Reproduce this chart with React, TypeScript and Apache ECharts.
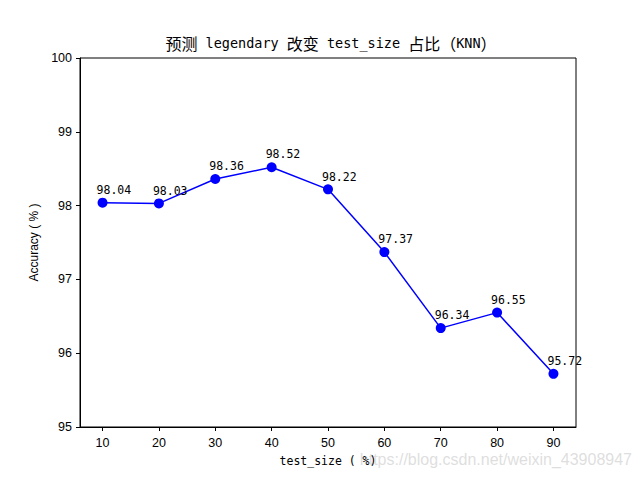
import React, { useEffect, useRef } from "react";
import * as echarts from "echarts";

const testSizes = [10, 20, 30, 40, 50, 60, 70, 80, 90];
const accuracy = [98.04, 98.03, 98.36, 98.52, 98.22, 97.37, 96.34, 96.55, 95.72];
const xTicks = [10, 20, 30, 40, 50, 60, 70, 80, 90];
const titleParts: [string, string][] = [
  ["c", "预测"],
  ["l", " legendary "],
  ["c", "改变"],
  ["l", " test_size "],
  ["c", "占比（"],
  ["l", "KNN"],
  ["c", "）"],
];
const xName = "test_size ( %)";
const yName = "Accuracy ( % )";
const watermark = "https://blog.csdn.net/weixin_43908947";

const CJK = "'Noto Sans CJK SC', sans-serif";
const MONO = "'DejaVu Sans Mono', 'Noto Sans CJK SC', monospace";
const SANS = "'Liberation Sans', Arial, sans-serif";

export default function App() {
  const ref = useRef<HTMLDivElement>(null);
  useEffect(() => {
    if (!ref.current) return;
    const chart = echarts.init(ref.current, undefined, { renderer: "svg" });
    chart.setOption({
      animation: false,
      backgroundColor: "#ffffff",
      title: {
        text: titleParts.map(([k, t]) => `{${k}|${t}}`).join(""),
        left: 326,
        top: 28,
        textAlign: "center",
        textStyle: {
          fontWeight: "normal",
          rich: {
            c: { fontFamily: CJK, fontSize: 16, fontWeight: "normal", color: "#000", lineHeight: 20 },
            l: { fontFamily: MONO, fontSize: 13.5, fontWeight: "normal", color: "#000", lineHeight: 20 },
          },
        },
      },
      grid: {
        left: 80,
        right: 64,
        top: 58,
        bottom: 53,
        show: true,
        borderColor: "#000",
        borderWidth: 1,
        backgroundColor: "transparent",
      },
      xAxis: {
        type: "value",
        min: 6,
        max: 94,
        name: xName,
        nameLocation: "middle",
        nameGap: 28,
        nameTextStyle: { fontFamily: MONO, fontSize: 11.5, color: "#000" },
        axisLine: { show: true, lineStyle: { color: "#000" } },
        axisTick: { show: true, length: 4, lineStyle: { color: "#000" }, customValues: xTicks },
        axisLabel: { fontFamily: SANS, fontSize: 12.5, color: "#000", margin: 9, customValues: xTicks },
        splitLine: { show: false },
      },
      yAxis: {
        type: "value",
        min: 95,
        max: 100,
        interval: 1,
        name: yName,
        nameLocation: "middle",
        nameGap: 40,
        nameTextStyle: { fontFamily: SANS, fontSize: 12, color: "#000" },
        axisLine: { show: true, lineStyle: { color: "#000" } },
        axisTick: { show: true, length: 4, lineStyle: { color: "#000" } },
        axisLabel: { fontFamily: SANS, fontSize: 12.5, color: "#000", margin: 8 },
        splitLine: { show: false },
      },
      series: [
        {
          type: "line",
          data: testSizes.map((x, i) => [x, accuracy[i]]),
          symbol: "circle",
          symbolSize: 10,
          lineStyle: { color: "#0000ff", width: 1.5 },
          itemStyle: { color: "#0000ff" },
          label: {
            show: true,
            position: "top",
            distance: 2,
            align: "left",
            offset: [-6, 0],
            fontFamily: MONO,
            fontSize: 11.5,
            color: "#000",
            formatter: (p: any) => p.value[1].toFixed(2),
          },
        },
      ],
      graphic: [
        {
          type: "text",
          right: 8,
          top: 451,
          style: {
            text: watermark,
            fontFamily: SANS,
            fontSize: 16,
            fill: "rgba(200,200,200,0.6)",
          },
        },
      ],
    });
    return () => chart.dispose();
  }, []);
  return <div ref={ref} style={{ width: 640, height: 480, position: "absolute", left: 0, top: 0 }} />;
}
